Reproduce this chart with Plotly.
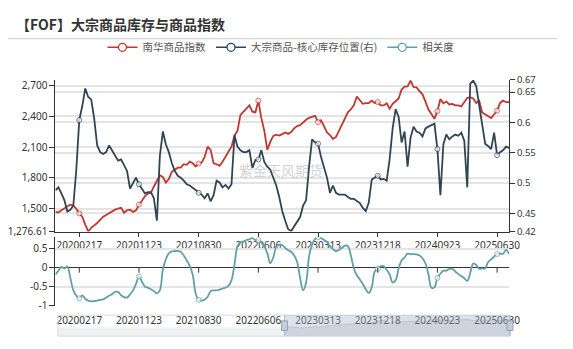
import pandas as pd
import plotly.graph_objects as go

# ---------------- data ----------------
dates = pd.date_range("2019-10-28", periods=153, freq="14D")
tick_dates = ["2020-02-17", "2020-11-23", "2021-08-30", "2022-06-06",
              "2023-03-13", "2023-12-18", "2024-09-23", "2025-06-30"]
tick_text = [d.replace("-", "") for d in tick_dates]

nanhua = [
    1469, 1463, 1484, 1500, 1522, 1540, 1531, 1500, 1454, 1422,
    1345, 1277, 1314, 1336, 1360, 1391, 1422, 1438, 1454, 1478,
    1491, 1500, 1509, 1460, 1484, 1491, 1469, 1484, 1540, 1578,
    1624, 1646, 1655, 1717, 1779, 1826, 1810, 1755, 1790, 1860,
    1880, 1900, 1900, 1934, 1928, 1959, 1943, 1912, 1940, 1950,
    2005, 2105, 2074, 1943, 1934, 1919, 1959, 2012, 2064, 2105,
    2213, 2260, 2415, 2446, 2470, 2508, 2446, 2440, 2554, 2384,
    2260, 2074, 2151, 2210, 2222, 2213, 2228, 2244, 2230, 2247,
    2284, 2306, 2315, 2346, 2368, 2387, 2396, 2405, 2345, 2362,
    2306, 2244, 2219, 2182, 2198, 2260, 2312, 2374, 2440, 2470,
    2508, 2595, 2560, 2523, 2529, 2529, 2554, 2532, 2540, 2508,
    2508, 2529, 2476, 2523, 2548, 2575, 2662, 2690, 2693, 2750,
    2687, 2684, 2647, 2616, 2545, 2467, 2424, 2377, 2452, 2570,
    2529, 2545, 2517, 2523, 2508, 2508, 2498, 2539, 2582, 2585,
    2576, 2532, 2554, 2439, 2421, 2405, 2384, 2421, 2456, 2532,
    2554, 2539, 2539,
]

inventory = [
    0.488, 0.493, 0.483, 0.472, 0.453, 0.456, 0.463, 0.522, 0.604, 0.627,
    0.656, 0.642, 0.638, 0.606, 0.562, 0.551, 0.548, 0.551, 0.562, 0.554,
    0.547, 0.537, 0.539, 0.530, 0.520, 0.491, 0.501, 0.509, 0.498, 0.490,
    0.483, 0.485, 0.485, 0.475, 0.438, 0.545, 0.585, 0.564, 0.551, 0.533,
    0.520, 0.512, 0.509, 0.504, 0.498, 0.496, 0.492, 0.488, 0.484, 0.481,
    0.475, 0.483, 0.470, 0.480, 0.504, 0.501, 0.493, 0.497, 0.491, 0.498,
    0.579, 0.560, 0.554, 0.551, 0.551, 0.554, 0.525, 0.538, 0.539, 0.554,
    0.535, 0.527, 0.522, 0.509, 0.496, 0.477, 0.454, 0.438, 0.424, 0.421,
    0.429, 0.437, 0.444, 0.463, 0.472, 0.527, 0.572, 0.567, 0.565, 0.543,
    0.525, 0.509, 0.484, 0.496, 0.484, 0.481, 0.481, 0.481, 0.477, 0.474,
    0.474, 0.470, 0.467, 0.459, 0.454, 0.468, 0.506, 0.509, 0.512, 0.506,
    0.507, 0.504, 0.540, 0.590, 0.622, 0.609, 0.567, 0.585, 0.527, 0.575,
    0.593, 0.585, 0.583, 0.577, 0.590, 0.593, 0.596, 0.598, 0.556, 0.480,
    0.564, 0.580, 0.572, 0.577, 0.580, 0.578, 0.583, 0.570, 0.493, 0.664,
    0.669, 0.660, 0.628, 0.600, 0.565, 0.561, 0.556, 0.583, 0.546, 0.551,
    0.554, 0.560, 0.558,
]

correlation = [
    -0.18, -0.08, 0.02, -0.02, 0.03, -0.27, -0.60, -0.74, -0.81, -0.73,
    -0.82, -0.87, -0.89, -0.88, -0.87, -0.85, -0.84, -0.79, -0.74, -0.70,
    -0.64, -0.64, -0.73, -0.78, -0.79, -0.71, -0.60, -0.43, -0.23, -0.37,
    -0.50, -0.53, -0.57, -0.62, -0.68, -0.60, -0.05, 0.22, 0.38, 0.43,
    0.44, 0.44, 0.42, 0.32, 0.19, 0.05, -0.18, -0.68, -0.85, -0.87,
    -0.85, -0.77, -0.62, -0.60, -0.60, -0.58, -0.55, -0.53, -0.48, -0.33,
    0.07, 0.57, 0.68, 0.69, 0.73, 0.75, 0.78, 0.73, 0.73, 0.67,
    0.57, 0.38, 0.12, 0.27, 0.55, 0.61, 0.60, 0.52, 0.46, 0.42,
    0.32, 0.15, -0.28, -0.60, -0.39, 0.30, 0.61, 0.76, 0.80, 0.78,
    0.73, 0.68, 0.57, 0.49, 0.44, 0.47, 0.52, 0.58, 0.57, 0.32,
    -0.02, -0.20, -0.31, -0.43, -0.57, -0.67, -0.52, -0.10, -0.03, 0.04,
    0.04, -0.06, -0.18, -0.39, -0.33, -0.02, 0.19, 0.27, 0.37, 0.36,
    0.36, 0.35, 0.32, 0.25, 0.11, -0.18, -0.53, -0.52, -0.27, -0.16,
    -0.08, -0.08, -0.03, -0.03, -0.10, -0.17, -0.22, -0.28, -0.35, -0.14,
    0.11, 0.07, -0.03, -0.02, -0.02, 0.15, 0.22, 0.29, 0.36, 0.37,
    0.37, 0.47, 0.36,
]

left_ticks = [1276.61, 1500, 1800, 2100, 2400, 2700]
left_text = ["1,276.61", "1,500", "1,800", "2,100", "2,400", "2,700"]
right_ticks = [0.42, 0.45, 0.5, 0.55, 0.6, 0.65, 0.67]
right_text = ["0.42", "0.45", "0.5", "0.55", "0.6", "0.65", "0.67"]
corr_ticks = [-1, -0.5, 0, 0.5]
corr_text = ["-1", "-0.5", "0", "0.5"]

names = ["南华商品指数", "大宗商品-核心库存位置(右)", "相关度"]
title = "【FOF】大宗商品库存与商品指数"
watermark = "紫金天风期货"

# ---------------- style ----------------
W, H = 573, 349
RED, NAVY, TEAL = "#c23531", "#2f4554", "#61a0a8"
AX = "#333333"
GRID = "#e4e4e4"
FONT = "Noto Sans CJK SC, Noto Sans, sans-serif"
NUMFONT = "Noto Sans, DejaVu Sans, sans-serif"


def px(x):
    return x / W


def py(y):
    return 1 - y / H


tick_set = set(tick_dates)
is_tick = [d.strftime("%Y-%m-%d") in tick_set for d in dates]
msize = [5 if t else 0 for t in is_tick]
mlw = [1 if t else 0 for t in is_tick]

fig = go.Figure()


def series(y, color, xa, ya, shape="linear"):
    return go.Scatter(
        x=dates, y=y, xaxis=xa, yaxis=ya, mode="lines+markers",
        line=dict(color=color, width=1.8, shape=shape),
        marker=dict(size=msize, color="white", line=dict(color=color, width=mlw)),
        showlegend=False, hoverinfo="skip",
    )


fig.add_trace(series(nanhua, RED, "x", "y"))
fig.add_trace(series(inventory, NAVY, "x", "y2"))
fig.add_trace(series(correlation, TEAL, "x2", "y3", shape="spline"))

# data-zoom preview
fig.add_trace(go.Scatter(
    x=dates, y=nanhua, xaxis="x3", yaxis="y4", mode="lines",
    line=dict(color="rgba(47,69,84,0.25)", width=0.8),
    fill="tozeroy", fillcolor="rgba(47,69,84,0.12)",
    showlegend=False, hoverinfo="skip",
))

# legend entries
for nm, col in zip(names, [RED, NAVY, TEAL]):
    fig.add_trace(go.Scatter(
        x=[None], y=[None], mode="lines+markers", name=nm,
        line=dict(color=col, width=1.5),
        marker=dict(size=8, color="white", line=dict(color=col, width=1.3)),
    ))

XDOM = [px(56.5), px(519)]
xr = [dates[0], dates[-1]]
tickfont = dict(size=10, color=AX, family=NUMFONT)
rtickfont = dict(size=9.5, color=AX, family=NUMFONT)

fig.update_layout(
    width=W, height=H, margin=dict(l=0, r=0, t=0, b=0),
    paper_bgcolor="white", plot_bgcolor="white",
    font=dict(family=FONT, color=AX),
    xaxis=dict(domain=XDOM, anchor="y", type="date", range=xr,
               tickmode="array", tickvals=tick_dates, ticktext=tick_text,
               ticks="outside", ticklen=4, tickcolor=AX, showline=True,
               linecolor=AX, linewidth=1, showgrid=False, zeroline=False,
               tickfont=tickfont),
    yaxis=dict(domain=[py(234), py(76)], anchor="x", range=[1276.61, 2756],
               tickmode="array", tickvals=left_ticks, ticktext=left_text,
               ticks="outside", ticklen=5, tickcolor=AX, showline=True,
               linecolor=AX, linewidth=1, showgrid=True, gridcolor=GRID,
               gridwidth=1.5, zeroline=False, tickfont=tickfont),
    yaxis2=dict(overlaying="y", side="right", anchor="x", range=[0.42, 0.67],
                tickmode="array", tickvals=right_ticks, ticktext=right_text,
                ticks="outside", ticklen=5, tickcolor=AX, showline=True,
                linecolor=AX, linewidth=1, showgrid=True, gridcolor=GRID,
                gridwidth=1.5, zeroline=False, tickfont=rtickfont),
    xaxis2=dict(domain=XDOM, anchor="y3", type="date", range=xr,
                tickmode="array", tickvals=tick_dates, ticktext=tick_text,
                ticks="", showline=False, showgrid=False, zeroline=False,
                ticklabelstandoff=7, tickfont=tickfont),
    yaxis3=dict(domain=[py(311), py(240)], anchor="x2", range=[-1, 0.8],
                tickmode="array", tickvals=corr_ticks, ticktext=corr_text,
                ticks="outside", ticklen=5, tickcolor=AX, showline=True,
                linecolor=AX, linewidth=1, showgrid=True, gridcolor=GRID,
                gridwidth=1.5, zeroline=True, zerolinecolor=AX,
                zerolinewidth=1, tickfont=tickfont),
    xaxis3=dict(domain=[px(290), px(520)], anchor="y4", type="date", range=xr,
                visible=False),
    yaxis4=dict(domain=[py(343), py(321)], anchor="x3", range=[0, 3300],
                visible=False),
    legend=dict(orientation="h", x=0.5, xanchor="center", y=py(42),
                yanchor="middle", font=dict(size=10.5, color="#555", family=FONT),
                itemwidth=30, bgcolor="rgba(0,0,0,0)"),
)

shapes = []
# title underline
shapes.append(dict(type="line", xref="paper", yref="paper", x0=px(8), x1=px(568),
                   y0=py(33), y1=py(33), line=dict(color="#cccccc", width=1)))
# ticks on the zero line of the correlation panel
for d in tick_dates:
    shapes.append(dict(type="line", xref="x2", yref="y3", x0=d, x1=d,
                       ysizemode="pixel", yanchor=0, y0=0, y1=-5,
                       line=dict(color=AX, width=1)))
# data zoom slider
shapes.append(dict(type="rect", xref="paper", yref="paper", x0=px(59), x1=px(290),
                   y0=py(343), y1=py(334), fillcolor="rgba(47,69,84,0.08)",
                   line=dict(width=0), layer="below"))
shapes.append(dict(type="rect", xref="paper", yref="paper", x0=px(59), x1=px(520),
                   y0=py(343), y1=py(321), line=dict(color="#dddddd", width=1)))
shapes.append(dict(type="rect", xref="paper", yref="paper", x0=px(290), x1=px(520),
                   y0=py(343), y1=py(321), fillcolor="rgba(167,183,204,0.4)",
                   line=dict(width=0)))
for hx in (290, 520):
    shapes.append(dict(type="line", xref="paper", yref="paper", x0=px(hx), x1=px(hx),
                       y0=py(343), y1=py(321), line=dict(color="#a7b7cc", width=1)))
    shapes.append(dict(type="rect", xref="paper", yref="paper", x0=px(hx - 3),
                       x1=px(hx + 3), y0=py(337), y1=py(327),
                       fillcolor="#c3cedb", line=dict(color="#8fa0b8", width=1)))
fig.update_layout(shapes=shapes)

fig.add_annotation(text="<b>" + title + "</b>", xref="paper", yref="paper",
                   x=px(14), y=py(18), xanchor="left", yanchor="middle",
                   showarrow=False, font=dict(size=14, color="#333", family=FONT))
fig.add_annotation(text=watermark, xref="paper", yref="paper",
                   x=px(286), y=py(170), xanchor="center", yanchor="middle",
                   showarrow=False, font=dict(size=14, color="rgba(150,150,150,0.45)",
                                              family=FONT))

fig.write_html("out.html")
